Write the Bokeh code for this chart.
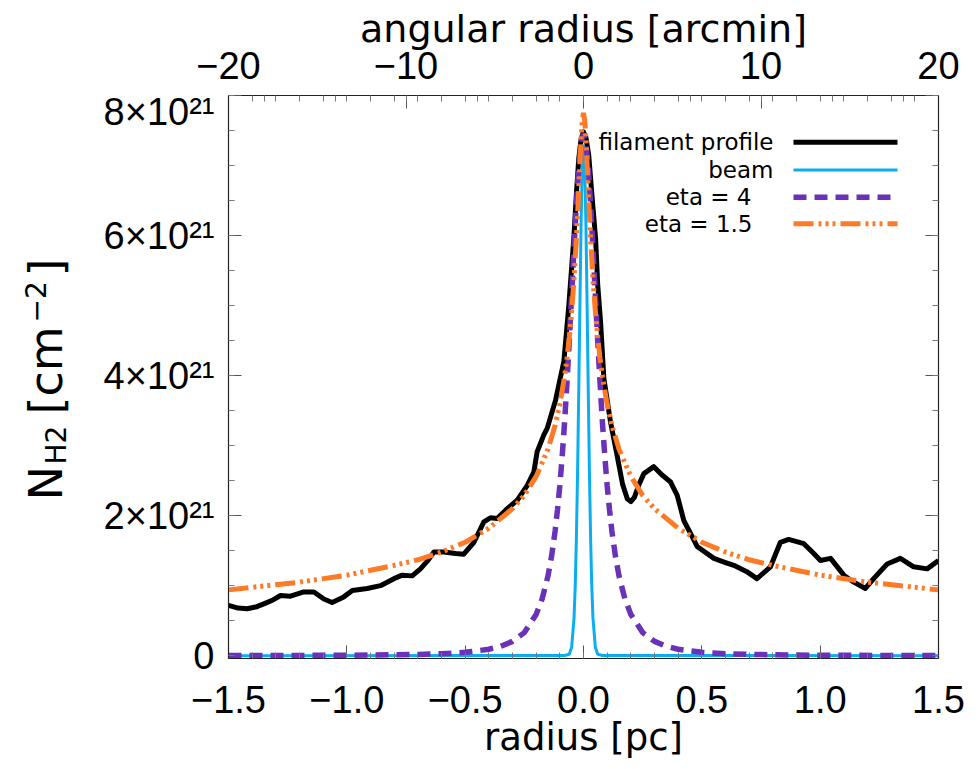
import numpy as np
from bokeh.plotting import figure
from bokeh.layouts import row, column
from bokeh.models import (Range1d, LinearAxis, FixedTicker, CustomJSTickFormatter, Label,
                          CustomLabelingPolicy)
from bokeh.core.properties import value
from bokeh.embed import file_html
from bokeh.resources import INLINE

# ---------------- data (radius in pc, column density in units of 1e21 cm^-2) ----------------
prof_x = [-1.500, -1.460, -1.421, -1.380, -1.351, -1.310, -1.280, -1.238, -1.182, -1.139,
          -1.097, -1.062, -1.013, -0.977, -0.914, -0.858, -0.801, -0.766, -0.724, -0.689,
          -0.660, -0.632, -0.590, -0.540, -0.506, -0.463, -0.421, -0.393, -0.365, -0.322,
          -0.280, -0.238, -0.210, -0.196, -0.168, -0.153, -0.118, -0.083, -0.062, -0.041,
          -0.030, -0.020, -0.010, 0.000, 0.010, 0.022, 0.035, 0.051, 0.060, 0.072,
          0.086, 0.114, 0.142, 0.165, 0.185, 0.200, 0.215, 0.235, 0.255, 0.297, 0.332,
          0.368, 0.396, 0.424, 0.450, 0.480, 0.551, 0.600, 0.635, 0.690, 0.733,
          0.790, 0.832, 0.867, 0.931, 0.970, 1.001, 1.044, 1.100, 1.142, 1.191,
          1.226, 1.283, 1.339, 1.395, 1.452, 1.500]
prof_y = [0.72, 0.68, 0.67, 0.70, 0.74, 0.80, 0.86, 0.85, 0.91, 0.91,
          0.81, 0.76, 0.84, 0.93, 0.96, 1.00, 1.10, 1.15, 1.14, 1.24,
          1.35, 1.48, 1.48, 1.46, 1.45, 1.62, 1.91, 1.97, 1.96, 2.10,
          2.22, 2.43, 2.62, 2.91, 3.15, 3.25, 3.65, 4.20, 5.00, 5.96,
          6.60, 7.10, 7.38, 7.48, 7.40, 7.15, 6.60, 5.96, 5.30, 4.77,
          3.96, 3.34, 2.86, 2.45, 2.24, 2.20, 2.26, 2.45, 2.60, 2.70, 2.58,
          2.48, 2.29, 1.93, 1.76, 1.56, 1.39, 1.33, 1.29, 1.20, 1.10,
          1.27, 1.62, 1.66, 1.60, 1.47, 1.36, 1.39, 1.15, 1.05, 0.96,
          1.10, 1.31, 1.39, 1.27, 1.24, 1.36]

beam_x = [-1.5, -0.08, -0.06, -0.05, -0.04, -0.035, -0.03, -0.025, -0.02, -0.015, -0.01, -0.005,
          0.0, 0.005, 0.01, 0.015, 0.02, 0.025, 0.03, 0.035, 0.04, 0.05, 0.06, 0.08, 1.5]
beam_y = [0.0, 0.003, 0.02, 0.12, 0.54, 0.99, 1.68, 2.63, 3.80, 5.06, 6.20, 7.01,
          7.30, 7.01, 6.20, 5.06, 3.80, 2.63, 1.68, 0.99, 0.54, 0.12, 0.02, 0.003, 0.0]

eta4_x = [-1.5, -1.0, -0.7, -0.6, -0.5, -0.4, -0.35, -0.3, -0.25, -0.2, -0.175, -0.15, -0.135,
          -0.12, -0.11, -0.1, -0.09, -0.08, -0.07, -0.06, -0.05, -0.04, -0.03, -0.02, -0.01,
          0.0, 0.01, 0.02, 0.03, 0.04, 0.05, 0.06, 0.07, 0.08, 0.09, 0.1, 0.11, 0.12,
          0.135, 0.15, 0.175, 0.2, 0.25, 0.3, 0.35, 0.4, 0.5, 0.6, 0.7, 1.0, 1.5]
eta4_y = [0.002, 0.006, 0.018, 0.028, 0.048, 0.092, 0.134, 0.205, 0.33, 0.59, 0.81, 1.14, 1.42,
          1.78, 2.08, 2.43, 2.85, 3.33, 3.89, 4.50, 5.16, 5.83, 6.46, 6.98, 7.33,
          7.45, 7.33, 6.98, 6.46, 5.83, 5.16, 4.50, 3.89, 3.33, 2.85, 2.43, 2.08, 1.78,
          1.42, 1.14, 0.81, 0.59, 0.33, 0.205, 0.134, 0.092, 0.048, 0.028, 0.018, 0.006, 0.002]

eta15_x = [-1.5, -1.2, -1.0, -0.8, -0.7, -0.6, -0.5, -0.4, -0.3, -0.25, -0.2, -0.15, -0.12,
           -0.1, -0.08, -0.07, -0.06, -0.05, -0.04, -0.03, -0.025, -0.02, -0.015, -0.01, -0.005,
           0.0, 0.005, 0.01, 0.015, 0.02, 0.025, 0.03, 0.04, 0.05, 0.06, 0.07, 0.08, 0.1,
           0.12, 0.15, 0.2, 0.25, 0.3, 0.4, 0.5, 0.6, 0.7, 0.8, 1.0, 1.2, 1.5]
eta15_y = [0.94, 1.05, 1.15, 1.29, 1.37, 1.48, 1.62, 1.82, 2.10, 2.29, 2.56, 2.95, 3.29,
           3.59, 3.99, 4.24, 4.55, 4.92, 5.38, 5.96, 6.30, 6.67, 7.04, 7.39, 7.65,
           7.75, 7.65, 7.39, 7.04, 6.67, 6.30, 5.96, 5.38, 4.92, 4.55, 4.24, 3.99, 3.59,
           3.29, 2.95, 2.56, 2.29, 2.10, 1.82, 1.62, 1.48, 1.37, 1.29, 1.15, 1.05, 0.94]

legend_labels = ["filament profile", "beam", "eta = 4", "eta = 1.5"]

x_major = [-1.5, -1.0, -0.5, 0.0, 0.5, 1.0, 1.5]
y_major = [0, 2, 4, 6, 8]
arcmin_major = [-20, -10, 0, 10, 20]
arcmin_labels = ["\u221220", "\u221210", "0", "10", "20"]
ARCMIN_PER_PC = 20.0 / 1.5

# ---------------- styles ----------------
C_BLACK = "#000000"
C_BEAM = "#0aaef0"
C_ETA4 = "#6a32b8"
C_ETA15 = "#ff7a26"
FONT = "DejaVu Sans"
NUMFONT = "Liberation Sans"

PAGE_W, PAGE_H = 979, 769
LW = 80             # side panel (rotated y title)
TOPH = 90           # top strip (arcmin labels and title)
FR_L, FR_R, FR_T, FR_B = 228, 938, 95, 658   # frame in page pixels
W = PAGE_W - LW
X0, X1 = -1.5, 1.5
Y0, Y1 = -0.04, 8.0

p = figure(width=W, height=PAGE_H - TOPH, x_range=Range1d(X0, X1), y_range=Range1d(Y0, Y1),
           output_backend="svg", toolbar_location=None, x_axis_location=None,
           y_axis_location=None, min_border_left=FR_L - LW, min_border_right=PAGE_W - FR_R,
           min_border_top=FR_T - TOPH, min_border_bottom=PAGE_H - FR_B)
p.frame_align = False
p.grid.visible = False
p.outline_line_color = "#222222"
p.outline_line_width = 1.2
p.background_fill_color = "white"
p.border_fill_color = "white"

p.extra_x_ranges = {"arcmin": Range1d(X0 * ARCMIN_PER_PC, X1 * ARCMIN_PER_PC)}

def style_axis(ax, size="38px"):
    ax.major_tick_in = 13
    ax.major_tick_out = 0
    ax.minor_tick_in = 6
    ax.minor_tick_out = 0
    ax.axis_line_color = "#222222"
    ax.major_tick_line_color = "#555555"
    ax.minor_tick_line_color = "#777777"
    ax.major_label_text_font = NUMFONT
    ax.major_label_text_font_size = size
    ax.major_label_text_color = "black"
    ax.axis_label_text_font = FONT
    ax.axis_label_text_font_size = "37px"
    ax.axis_label_text_font_style = "normal"
    ax.axis_label_text_color = "black"

no_labels = "for (const i of indices) { indices.unset(i) } return indices"

# bottom axis (pc)
xb = LinearAxis(ticker=FixedTicker(ticks=x_major,
                                   minor_ticks=list(np.round(np.arange(-1.5, 1.501, 0.1), 3))),
                formatter=CustomJSTickFormatter(code="return (tick < 0 ? '\u2212' : '') + Math.abs(tick).toFixed(1);"),
                axis_label="radius [pc]")
style_axis(xb)
xb.major_label_standoff = 27
xb.axis_label_standoff = 0
p.add_layout(xb, "below")

# top axis: ticks only (arcmin majors/minors + mirrored pc minors); labels live in the top strip
top_minor = sorted(set([round(v, 6) for v in np.arange(-20, 20.01, 2)] +
                       [round(v * ARCMIN_PER_PC, 6) for v in np.arange(-1.5, 1.501, 0.1)]))
xt = LinearAxis(x_range_name="arcmin",
                ticker=FixedTicker(ticks=arcmin_major, minor_ticks=top_minor),
                major_label_policy=CustomLabelingPolicy(code=no_labels))
style_axis(xt, size="1px")
xt.major_label_standoff = 0
p.add_layout(xt, "above")

# left axis
yl = LinearAxis(ticker=FixedTicker(ticks=y_major, minor_ticks=list(np.arange(0, 8.01, 0.5))),
                formatter=CustomJSTickFormatter(code="return tick == 0 ? '0' : tick.toFixed(0) + '\u00d710\u00b2\u00b9';"))
style_axis(yl)
yl.major_label_standoff = 14
p.add_layout(yl, "left")

# right axis (ticks only)
yr = LinearAxis(ticker=FixedTicker(ticks=y_major, minor_ticks=list(np.arange(0, 8.01, 0.5))),
                major_label_policy=CustomLabelingPolicy(code=no_labels))
style_axis(yr, size="1px")
yr.major_label_standoff = 0
p.add_layout(yr, "right")

# ---------------- curves ----------------
p.line(prof_x, prof_y, line_color=C_BLACK, line_width=5, line_join="round")
p.line(beam_x, beam_y, line_color=C_BEAM, line_width=3)
p.line(eta4_x, eta4_y, line_color=C_ETA4, line_width=5.5, line_dash="13 8")
p.line(eta15_x, eta15_y, line_color=C_ETA15, line_width=5, line_dash="20 5 3 4 3 4 3 5")

# ---------------- legend (label left, sample right) ----------------
def px_to_x(px):
    return X0 + (px - FR_L) / (FR_R - FR_L) * (X1 - X0)

def py_to_y(py):
    return Y0 + (FR_B - py) / (FR_B - FR_T) * (Y1 - Y0)

leg_rows_py = [141.7, 169.5, 196.7, 223.3]
leg_text_right = [773, 773, 751, 752]
leg_styles = [dict(line_color=C_BLACK, line_width=5),
              dict(line_color=C_BEAM, line_width=3),
              dict(line_color=C_ETA4, line_width=5.5, line_dash="13 8"),
              dict(line_color=C_ETA15, line_width=5, line_dash="20 5 3 4 3 4 3 5")]
for lab, rpy, tr, st in zip(legend_labels, leg_rows_py, leg_text_right, leg_styles):
    yv = py_to_y(rpy)
    p.segment(x0=[px_to_x(793)], y0=[yv], x1=[px_to_x(897)], y1=[yv], **st)
    p.add_layout(Label(x=px_to_x(tr), y=yv, text=lab, text_align="right",
                       text_baseline="middle", text_font=FONT, text_font_size="23px",
                       text_color="black"))

# ---------------- top strip: arcmin tick labels + title ----------------
def arcmin_at(px):
    return -20.0 + (px - FR_L) * 40.0 / (FR_R - FR_L)

top = figure(width=W, height=TOPH, x_range=Range1d(arcmin_at(LW), arcmin_at(PAGE_W)),
             y_range=Range1d(0, TOPH), output_backend="svg", toolbar_location=None,
             min_border=0, x_axis_location=None, y_axis_location=None)
top.frame_align = False
top.grid.visible = False
top.outline_line_color = None
top.background_fill_color = "white"
top.border_fill_color = "white"
top.text(x=arcmin_major, y=[TOPH - 65] * len(arcmin_major), text=arcmin_labels,
         text_align="center", text_baseline="middle", text_font=value(NUMFONT),
         text_font_size="38px", text_color="black")
top.text(x=[0], y=[TOPH - 28], text=["angular radius [arcmin]"], text_align="center",
         text_baseline="middle", text_font=value(FONT), text_font_size="38px",
         text_color="black")

# ---------------- side panel: y title N_H2 [cm^-2] (rotated) ----------------
side = figure(width=LW, height=PAGE_H, x_range=Range1d(0, LW), y_range=Range1d(0, PAGE_H),
              output_backend="svg", toolbar_location=None, min_border=0,
              x_axis_location=None, y_axis_location=None)
side.frame_align = False
side.grid.visible = False
side.outline_line_color = None
side.background_fill_color = "white"
side.border_fill_color = "white"

title_pieces = ["N", "H2", "[cm", "\u22122", "]"]
piece_start = [500, 464, 414, 322, 276]       # page y where each piece starts (text runs upward)
piece_cx = [45, 56, 45, 35, 45]               # page x of each piece's centre line
piece_size = ["46px", "28px", "46px", "28px", "46px"]
for txt, sy, cx, fs in zip(title_pieces, piece_start, piece_cx, piece_size):
    side.text(x=[cx], y=[PAGE_H - sy], text=[txt], angle=np.pi / 2,
              text_align="left", text_baseline="middle", text_font=value(FONT),
              text_font_size=fs, text_color="black")

layout = row(side, column(top, p, spacing=0), spacing=0)
open("out.html", "w", encoding="utf-8").write(file_html(layout, INLINE))
